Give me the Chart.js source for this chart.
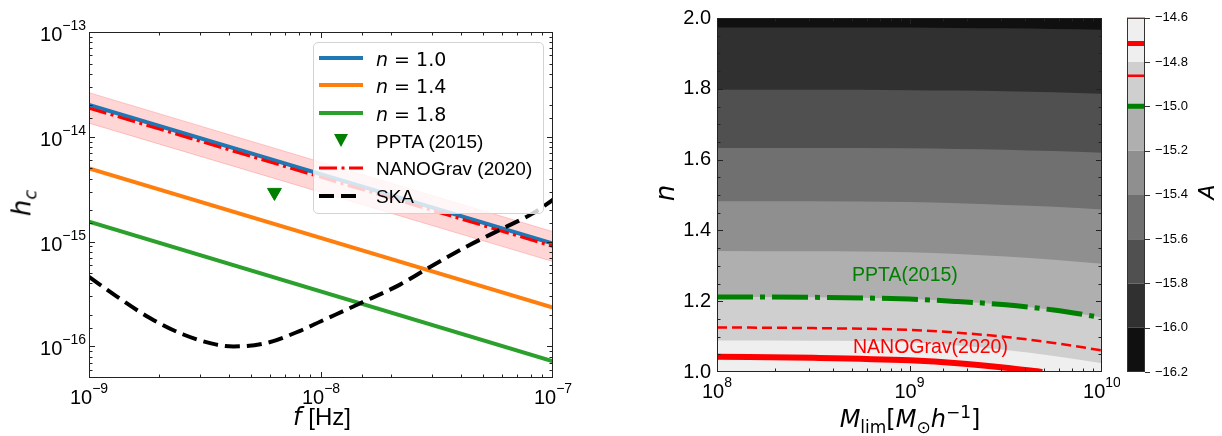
<!DOCTYPE html>
<html>
<head>
<meta charset="utf-8">
<script src="https://cdn.jsdelivr.net/npm/chart.js@4.4.1/dist/chart.umd.min.js"></script>
<style>
  body { margin: 0; background: #fff; width: 1222px; height: 436px; position: relative; overflow: hidden;
         font-family: "Liberation Sans", Arial, sans-serif; color: #000; }
  canvas { position: absolute; top: 0; }
  .txt { position: absolute; white-space: nowrap; line-height: 1; }
  .m { font-family: "DejaVu Sans", sans-serif; font-style: italic; }
  .dv { font-family: "DejaVu Sans", sans-serif; }
  .rot { transform: translate(-50%, -50%) rotate(-90deg); }
  .ctr { transform: translate(-50%, -50%); }
  #legend { position: absolute; left: 313px; top: 42px; width: 229px; height: 170px;
            border: 1px solid #d3d3d3; border-radius: 5px; background: rgba(255, 255, 255, 0.8); }
  .row { position: absolute; left: 0; width: 100%; height: 28px; font-size: 19px; }
  .row svg { position: absolute; left: 5px; top: 7px; }
  .row span { position: absolute; left: 62px; top: 4px; }
</style>
</head>
<body>
<canvas id="left" width="600" height="436" style="left:0"></canvas>
<canvas id="right" width="520" height="436" style="left:600px"></canvas>
<canvas id="cbar" width="122" height="436" style="left:1100px"></canvas>

<div id="legend">
  <div class="row" style="top:1px"><svg width="46" height="14"><line x1="0" y1="7" x2="44" y2="7" stroke="#1f77b4" stroke-width="4"/></svg><span class="dv"><i>n</i> = 1.0</span></div>
  <div class="row" style="top:28px"><svg width="46" height="14"><line x1="0" y1="7" x2="44" y2="7" stroke="#ff7f0e" stroke-width="4"/></svg><span class="dv"><i>n</i> = 1.4</span></div>
  <div class="row" style="top:56px"><svg width="46" height="14"><line x1="0" y1="7" x2="44" y2="7" stroke="#2ca02c" stroke-width="4"/></svg><span class="dv"><i>n</i> = 1.8</span></div>
  <div class="row" style="top:84px"><svg width="46" height="14"><polygon points="15,0 29,0 22,13" fill="#008000"/></svg><span>PPTA (2015)</span></div>
  <div class="row" style="top:111px"><svg width="46" height="14"><line x1="0" y1="7" x2="44" y2="7" stroke="#ff0000" stroke-width="3" stroke-dasharray="18 4.5 3 4.5"/></svg><span>NANOGrav (2020)</span></div>
  <div class="row" style="top:139px"><svg width="46" height="14"><line x1="0" y1="7" x2="44" y2="7" stroke="#000" stroke-width="4" stroke-dasharray="15 7"/></svg><span>SKA</span></div>
</div>

<div class="txt m rot" style="left:24px; top:203px; font-size:26px">h<sub style="font-size:18px">c</sub></div>
<div class="txt ctr" style="left:322px; top:417px; font-size:24px"><span class="m">f</span> [Hz]</div>

<div class="txt m rot" style="left:665px; top:193px; font-size:26px">n</div>
<div class="txt dv ctr" style="left:910px; top:420px; font-size:24px"><i>M</i><sub style="font-size:17px">lim</sub>[<i>M</i><sub style="font-size:17px">⊙</sub><i>h</i><sup style="font-size:17px">−1</sup>]</div>
<div class="txt" style="left:852px; top:265px; font-size:19.5px; color:#008000">PPTA(2015)</div>
<div class="txt" style="left:853px; top:337px; font-size:19.5px; color:#ff0000">NANOGrav(2020)</div>
<div class="txt m rot" style="left:1207px; top:192px; font-size:22px">A</div>

<script>
// characteristic strain vs frequency (left panel)
const fEnds = [1e-9, 1e-7];
const hcN10 = [2.02e-14, 9.6e-16];
const hcN14 = [5.0e-15, 2.35e-16];
const hcN18 = [1.55e-15, 7.2e-17];
const hcNano = [1.88e-14, 9.0e-16];
const nanoUpper = [2.64e-14, 1.245e-15];
const nanoLower = [1.35e-14, 6.45e-16];
const pptaF = 6.3e-9;
const pptaHc = 2.95e-15;
const skaF = [1e-9, 1.31e-9, 1.83e-9, 2.55e-9, 3.55e-9, 4.19e-9, 5.82e-9, 8.13e-9,
              1e-8, 1.47e-8, 2.19e-8, 2.82e-8, 4.25e-8, 5.92e-8, 8.22e-8, 1e-7];
const skaHc = [4.61e-16, 3.02e-16, 1.87e-16, 1.30e-16, 1.04e-16, 1.0e-16, 1.08e-16, 1.41e-16,
               1.74e-16, 2.57e-16, 3.89e-16, 5.41e-16, 9.0e-16, 1.30e-15, 1.87e-15, 2.51e-15];

// n at the contour levels of A over M_lim (right panel)
const mLim = [1e8, 3.16e8, 1e9, 1.78e9, 3.16e9, 5.62e9, 1e10];
const nA148 = [1.089, 1.088, 1.084, 1.075, 1.062, 1.045, 1.025];
const nA150 = [1.212, 1.211, 1.206, 1.199, 1.190, 1.175, 1.154];
const nA152 = [1.342, 1.341, 1.338, 1.333, 1.326, 1.317, 1.306];
const nA154 = [1.482, 1.482, 1.480, 1.477, 1.472, 1.467, 1.459];
const nA156 = [1.633, 1.633, 1.632, 1.630, 1.628, 1.624, 1.619];
const nA158 = [1.797, 1.797, 1.796, 1.795, 1.793, 1.790, 1.786];
const nA160 = [1.973, 1.973, 1.973, 1.972, 1.971, 1.969, 1.967];
const nNanoDash = [1.126, 1.124, 1.119, 1.111, 1.099, 1.082, 1.061];
const mNano = [1e8, 3.16e8, 1e9, 1.78e9, 3.16e9, 4.9e9];
const nNano = [1.043, 1.040, 1.033, 1.025, 1.012, 1.0];

// colour bar
const cbLevels = [-16.2, -16.0, -15.8, -15.6, -15.4, -15.2, -15.0, -14.8, -14.6];
const greys = ['#efefef', '#cfcfcf', '#afafaf', '#8f8f8f', '#707070', '#505050', '#303030', '#101010'];
const cbMarks = [-14.6, -14.716, -14.862, -15.0];
const cbMarkColor = ['#d00000', '#ff0000', '#ff0000', '#008000'];
const cbMarkWidth = [1.5, 5, 2.5, 5];

const pts = (xs, ys) => xs.map((x, i) => ({ x: x, y: ys[i] }));
const isPow10 = v => { const e = Math.log10(v); return Math.abs(e - Math.round(e)) < 1e-6; };
const FONT = "'Liberation Sans', Arial, sans-serif";

// "10" with a raised exponent, right-aligned or centred at x
function powText(ctx, v, x, y, align) {
  const ex = String(Math.round(Math.log10(v))).replace('-', '−');
  ctx.font = '20px ' + FONT;
  const w1 = ctx.measureText('10').width;
  ctx.font = '14px ' + FONT;
  const w2 = ctx.measureText(ex).width;
  const x0 = align === 'center' ? x - (w1 + w2) / 2 : x - w1 - w2;
  ctx.font = '20px ' + FONT;
  ctx.fillText('10', x0, y);
  ctx.font = '14px ' + FONT;
  ctx.fillText(ex, x0 + w1, y - 11);
}

// frame + inward tick marks, or outward ticks for the colour bar
const frameTicks = {
  id: 'frameTicks',
  beforeDatasetsDraw(chart, args, o) {
    if (!o.area) return;
    const { ctx, chartArea: a } = chart;
    ctx.save();
    ctx.fillStyle = o.area;
    ctx.fillRect(a.left, a.top, a.right - a.left, a.bottom - a.top);
    ctx.restore();
  },
  afterDatasetsDraw(chart, args, o) {
    const { ctx, chartArea: a } = chart;
    ctx.save();
    ctx.strokeStyle = o.color || '#222';
    ctx.lineWidth = 1;
    ctx.strokeRect(a.left + 0.5, a.top + 0.5, a.right - a.left - 1, a.bottom - a.top - 1);
    ctx.beginPath();
    if (o.cbar) {
      const s = chart.scales.y;
      s.ticks.forEach(t => {
        const p = Math.round(s.getPixelForValue(t.value)) + 0.5;
        ctx.moveTo(a.right, p); ctx.lineTo(a.right + 5, p);
      });
    } else {
      const xs = chart.scales.x, ys = chart.scales.y;
      xs.ticks.forEach(t => {
        const len = o.majorX(t.value) ? 6 : 3.5;
        const p = Math.round(xs.getPixelForValue(t.value)) + 0.5;
        if (p < a.left + 2 || p > a.right - 2) return;
        ctx.moveTo(p, a.bottom); ctx.lineTo(p, a.bottom - len);
        ctx.moveTo(p, a.top); ctx.lineTo(p, a.top + len);
      });
      ys.ticks.forEach(t => {
        const len = o.majorY(t.value) ? 6 : 3.5;
        const p = Math.round(ys.getPixelForValue(t.value)) + 0.5;
        if (p < a.top + 2 || p > a.bottom - 2) return;
        ctx.moveTo(a.left, p); ctx.lineTo(a.left + len, p);
        ctx.moveTo(a.right, p); ctx.lineTo(a.right - len, p);
      });
    }
    ctx.stroke();

    // power-of-ten labels on log axes
    ctx.fillStyle = '#000';
    ctx.textAlign = 'left';
    ctx.textBaseline = 'alphabetic';
    if (o.logX) {
      chart.scales.x.ticks.forEach(t => {
        if (isPow10(t.value)) powText(ctx, t.value, chart.scales.x.getPixelForValue(t.value), a.bottom + o.logX, 'center');
      });
    }
    if (o.logY) {
      chart.scales.y.ticks.forEach(t => {
        if (isPow10(t.value)) powText(ctx, t.value, a.left - 3, chart.scales.y.getPixelForValue(t.value) + o.logY, 'right');
      });
    }
    ctx.restore();
  }
};
Chart.register(frameTicks);

const common = {
  responsive: false,
  animation: false,
  events: [],
  elements: { point: { radius: 0 }, line: { fill: false } },
  plugins: { legend: { display: false }, tooltip: { enabled: false } }
};
const blank = () => '';

new Chart(document.getElementById('left'), {
  type: 'line',
  data: {
    datasets: [
      { data: pts(fEnds, nanoUpper), borderColor: 'rgba(255,0,0,0.2)', borderWidth: 1,
        backgroundColor: 'rgba(255,0,0,0.16)', fill: '+1', order: 10 },
      { data: pts(fEnds, nanoLower), borderColor: 'rgba(255,0,0,0.2)', borderWidth: 1, order: 10 },
      { label: 'n = 1.0', data: pts(fEnds, hcN10), borderColor: '#1f77b4', borderWidth: 4, order: 6 },
      { label: 'n = 1.4', data: pts(fEnds, hcN14), borderColor: '#ff7f0e', borderWidth: 4, order: 5 },
      { label: 'n = 1.8', data: pts(fEnds, hcN18), borderColor: '#2ca02c', borderWidth: 4, order: 4 },
      { label: 'PPTA (2015)', data: [{ x: pptaF, y: pptaHc }], showLine: false, pointStyle: 'triangle',
        rotation: 180, pointRadius: 8, backgroundColor: '#008000', borderColor: '#008000', order: 3 },
      { label: 'NANOGrav (2020)', data: pts(fEnds, hcNano), borderColor: '#ff0000', borderWidth: 3,
        borderDash: [18, 4.5, 3, 4.5], order: 2 },
      { label: 'SKA', data: pts(skaF, skaHc), borderColor: '#000', borderWidth: 4, borderDash: [15, 7],
        cubicInterpolationMode: 'monotone', order: 1 }
    ]
  },
  options: Object.assign({}, common, {
    layout: { padding: { top: 32, right: 47, left: 0, bottom: 0 } },
    plugins: Object.assign({}, common.plugins, {
      frameTicks: { majorX: isPow10, majorY: isPow10, logX: 26, logY: 9 }
    }),
    scales: {
      x: { type: 'logarithmic', min: 1e-9, max: 1e-7, grid: { display: false, drawTicks: false }, border: { display: false },
           ticks: { callback: blank, autoSkip: false, maxRotation: 0 },
           afterFit: s => { s.height = 58; } },
      y: { type: 'logarithmic', min: 5e-17, max: 1e-13, grid: { display: false, drawTicks: false }, border: { display: false },
           ticks: { callback: blank, autoSkip: false },
           afterFit: s => { s.width = 89; } }
    }
  })
});

// filled contour bands: each level filled up to the top with the next darker grey
const contourSets = [nA148, nA150, nA152, nA154, nA156, nA158, nA160].map((arr, i) => ({
  data: pts(mLim, arr), borderWidth: 0, borderColor: 'rgba(0,0,0,0)', backgroundColor: greys[i + 1],
  fill: 'end', cubicInterpolationMode: 'monotone', order: 20 - i
}));

new Chart(document.getElementById('right'), {
  type: 'line',
  data: {
    datasets: contourSets.concat([
      { data: pts(mLim, nA150), borderColor: '#008000', borderWidth: 5, borderDash: [36, 7, 5, 7],
        cubicInterpolationMode: 'monotone', order: 1 },
      { data: pts(mLim, nNanoDash), borderColor: '#ff0000', borderWidth: 2.5, borderDash: [10, 5],
        cubicInterpolationMode: 'monotone', order: 1 },
      { data: pts(mNano, nNano), borderColor: '#ff0000', borderWidth: 6,
        cubicInterpolationMode: 'monotone', order: 1 }
    ])
  },
  options: Object.assign({}, common, {
    layout: { padding: { top: 12, right: 18, left: 0, bottom: 0 } },
    plugins: Object.assign({}, common.plugins, {
      frameTicks: { area: greys[0], majorX: isPow10, majorY: v => Math.round(v * 100) % 20 === 0, logX: 25.5 }
    }),
    scales: {
      x: { type: 'logarithmic', min: 1e8, max: 1e10, grid: { display: false, drawTicks: false }, border: { display: false },
           ticks: { callback: blank, autoSkip: false, maxRotation: 0 },
           afterFit: s => { s.height = 64; } },
      y: { type: 'linear', min: 1, max: 2, grid: { display: false, drawTicks: false }, border: { display: false },
           ticks: { stepSize: 0.05, autoSkip: false, padding: 6, color: '#000', font: { family: FONT, size: 20 },
                    callback: v => Math.round(v * 100) % 20 === 0 ? v.toFixed(1) : '' },
           afterFit: s => { s.width = 117; } }
    }
  })
});

// colour bar with the marked levels
const cbSets = cbLevels.map((lv, i) => ({
  data: [{ x: 0, y: lv }, { x: 1, y: lv }], borderWidth: 0, borderColor: 'rgba(0,0,0,0)',
  backgroundColor: i === 0 ? 'rgba(0,0,0,0)' : greys[cbLevels.length - 1 - i], fill: i === 0 ? false : '-1', order: 10
}));
const cbLines = cbMarks.map((v, i) => ({
  data: [{ x: 0, y: v }, { x: 1, y: v }], borderColor: cbMarkColor[i], borderWidth: cbMarkWidth[i], order: 1
}));

new Chart(document.getElementById('cbar'), {
  type: 'line',
  data: { datasets: cbSets.concat(cbLines) },
  options: Object.assign({}, common, {
    layout: { padding: { top: 12, right: 0, left: 27, bottom: 64 } },
    plugins: Object.assign({}, common.plugins, { frameTicks: { cbar: true, color: '#333' } }),
    scales: {
      x: { type: 'linear', min: 0, max: 1, display: false },
      y: { type: 'linear', position: 'right', min: -16.2, max: -14.6, grid: { display: false, drawTicks: false }, border: { display: false },
           ticks: { stepSize: 0.2, padding: 10, color: '#000', font: { family: FONT, size: 13 },
                    callback: v => '−' + Math.abs(v).toFixed(1) },
           afterFit: s => { s.width = 77; } }
    }
  })
});
</script>
</body>
</html>
